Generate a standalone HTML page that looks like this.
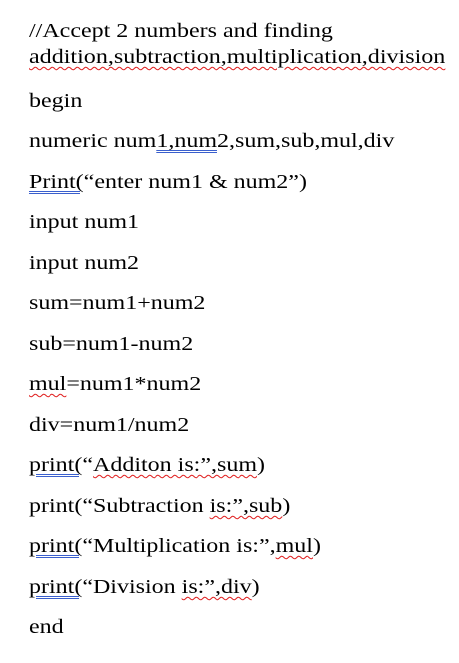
<!DOCTYPE html>
<html><head><meta charset="utf-8"><style>
body{margin:0;width:459px;height:663px;background:#fff;position:relative;overflow:hidden}
.l{position:absolute;left:29px;font-family:"Liberation Serif",serif;font-size:20px;line-height:20px;color:#000;white-space:nowrap;transform:scaleX(1.2);transform-origin:0 0}
.r{text-decoration:underline wavy #e02020;text-decoration-thickness:1px;text-underline-offset:3px}
.b{text-decoration:underline double #3a5fcd;text-decoration-thickness:1px;text-underline-offset:3px}
</style></head><body>
<div class="l" style="top:21px">//Accept 2 numbers and finding</div>
<div class="l r" style="top:47px;transform:scaleX(1.203)">addition,subtraction,multiplication,division</div>
<div class="l" style="top:91px">begin</div>
<div class="l" style="top:131px">numeric num<span class="b">1,num</span>2,sum,sub,mul,div</div>
<div class="l" style="top:172px"><span class="b">Print(</span>“enter num1 &amp; num2”)</div>
<div class="l" style="top:212px">input num1</div>
<div class="l" style="top:253px">input num2</div>
<div class="l" style="top:293px">sum=num1+num2</div>
<div class="l" style="top:334px">sub=num1-num2</div>
<div class="l" style="top:374px"><span class="r">mul</span>=num1*num2</div>
<div class="l" style="top:415px">div=num1/num2</div>
<div class="l" style="top:455px"><span class="b">print(</span>“<span class="r">Additon is:”,sum</span>)</div>
<div class="l" style="top:496px">print(“Subtraction <span class="r">is:”,sub</span>)</div>
<div class="l" style="top:536px"><span class="b">print(</span>“Multiplication is:”,<span class="r">mul</span>)</div>
<div class="l" style="top:577px"><span class="b">print(</span>“Division <span class="r">is:”,div</span>)</div>
<div class="l" style="top:617px">end</div>
</body></html>
